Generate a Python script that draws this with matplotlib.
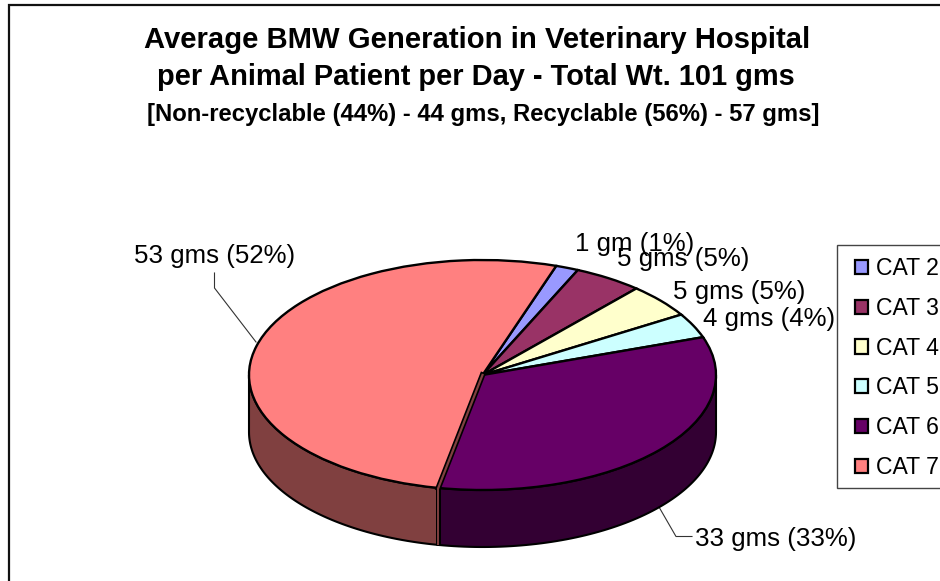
# -*- coding: utf-8 -*-
import numpy as np
import matplotlib
matplotlib.use('Agg')
import matplotlib.pyplot as plt
from matplotlib.patches import Polygon, Rectangle

categories = ['CAT 2', 'CAT 3', 'CAT 4', 'CAT 5', 'CAT 6', 'CAT 7']
grams = [1.6, 4.8, 4.8, 3.5, 33.7, 52.6]
value_labels = ['1 gm (1%)', '5 gms (5%)', '5 gms (5%)', '4 gms (4%)', '33 gms (33%)', '53 gms (52%)']
colors = ['#9999FF', '#993366', '#FFFFCC', '#CCFFFF', '#660066', '#FF8080']
wall_colors = ['#4D4D80', '#4D1A33', '#808066', '#668080', '#330033', '#804040']
title_lines = ['Average BMW Generation in Veterinary Hospital',
               'per Animal Patient per Day - Total Wt. 101 gms',
               '[Non-recyclable (44%) - 44 gms, Recyclable (56%) - 57 gms]']

plt.rcParams['font.family'] = ['Liberation Sans', 'DejaVu Sans']
W, H = 940, 581
START = 71.6
fig = plt.figure(figsize=(W / 100, H / 100), dpi=100)

# overlay in pixel coordinates, for frame and text
page = fig.add_axes([0, 0, 1, 1])
page.set_xlim(0, W)
page.set_ylim(H, 0)
page.axis('off')
page.plot([8.5, 8.5, W], [H, 4.5, 4.5], color='#111111', lw=1.6, solid_joinstyle='miter')

# pie top is squashed into an ellipse by its own axes
cx, cy, rx, ry = 482.5, 375, 233.5, 115
depth = 57 / ry
ax = fig.add_axes([(cx - rx) / W, 1 - (cy + ry) / H, 2 * rx / W, 2 * ry / H])
ax.patch.set_alpha(0)
wedges, _ = ax.pie(grams, colors=colors, startangle=START, counterclock=False, radius=1,
                   wedgeprops={'edgecolor': 'black', 'linewidth': 1.7, 'clip_on': False})
ax.set_aspect('auto')
ax.set_xlim(-1, 1)
ax.set_ylim(-1, 1)

# side wall of each slice, only the front half can be seen
edges = START - np.cumsum([0] + grams) * 360.0 / sum(grams)
for i in range(len(grams)):
    a0, a1 = edges[i], edges[i + 1]
    lo, hi = max(a1, -180), min(a0, 0)
    if hi <= lo:
        continue
    t = np.radians(np.linspace(lo, hi, 80))
    x = np.cos(t)
    y = np.sin(t)
    pts = np.r_[np.c_[x, y], np.c_[x[::-1], y[::-1] - depth]]
    ax.add_patch(Polygon(pts, closed=True, facecolor=wall_colors[i], edgecolor='black',
                         linewidth=1.5, clip_on=False, zorder=0))

# thin brown inner face between CAT 6 and CAT 7
seam = np.radians(edges[5])
sx, sy = np.cos(seam), np.sin(seam)
ax.plot([0, sx], [0, sy], color='black', lw=4, clip_on=False, zorder=3)
ax.plot([0, sx], [0, sy], color='#804040', lw=1.6, clip_on=False, zorder=3.1)
ax.plot([sx, sx], [sy, sy - depth], color='black', lw=3.6, clip_on=False, zorder=3, solid_capstyle='butt')
ax.plot([sx, sx], [sy, sy - depth], color='#804040', lw=1.4, clip_on=False, zorder=3.1, solid_capstyle='butt')

# title
title_pos = [(144, 48, 21.1), (157, 85, 20.9), (147, 121, 17.2)]
for line, (x, y, size) in zip(title_lines, title_pos):
    page.text(x, y, line, fontsize=size, fontweight='bold', color='black', va='baseline', ha='left')

# data labels
label_pos = [(575, 251), (617, 266), (673, 299), (703, 326), (695, 546), (134, 263)]
for text, (x, y) in zip(value_labels, label_pos):
    page.text(x, y, text, fontsize=18.6, color='black', va='baseline', ha='left', zorder=5)
page.plot([214.5, 214.5, 256], [273, 288, 342], color='#333333', lw=0.8)
page.plot([659, 676, 692], [507, 536.5, 536.5], color='#333333', lw=0.8)

# legend is cut by the right edge in the original
page.add_patch(Rectangle((837, 245), 140, 243, facecolor='white', edgecolor='#444444', lw=1, zorder=3))
leg = fig.legend(wedges, categories, loc='upper left', bbox_to_anchor=(855 / W, 1 - 257 / H),
                 frameon=False, fontsize=16.6, labelspacing=0.73, handlelength=0.565, handleheight=0.565,
                 handletextpad=0.35, borderpad=0, borderaxespad=0)
for handle in leg.legend_handles:
    handle.set_linewidth(1.6)

plt.savefig('out.png', dpi=100)
plt.close()
